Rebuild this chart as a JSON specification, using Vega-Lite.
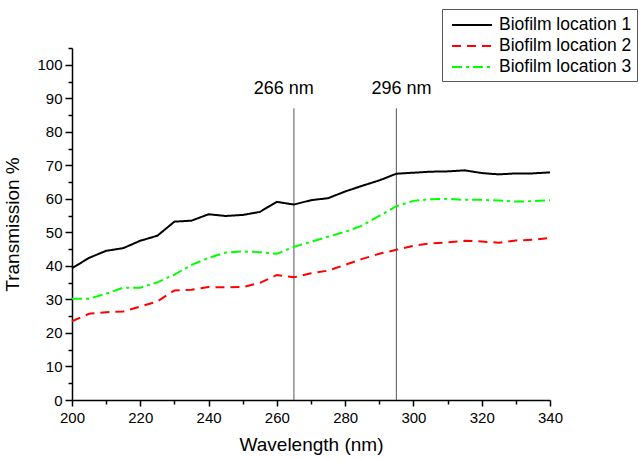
{
  "$schema": "https://vega.github.io/schema/vega-lite/v6.json",
  "width": 478,
  "height": 352,
  "autosize": "none",
  "padding": {"left": 72, "top": 48, "right": 92, "bottom": 61},
  "background": "white",
  "config": {
    "view": {"stroke": null},
    "font": "Liberation Sans",
    "axis": {
      "domainColor": "#000000",
      "domainWidth": 1.5,
      "tickColor": "#000000",
      "tickWidth": 1.5,
      "grid": false,
      "labelColor": "#000000",
      "labelFontSize": 15,
      "labelFont": "Liberation Sans",
      "labelOverlap": false,
      "titleFont": "Liberation Sans",
      "titleFontSize": 19,
      "titleFontWeight": "normal",
      "titleColor": "#000000"
    }
  },
  "datasets": {
    "spectra": [
      {"nm": 200, "series": "Biofilm location 1", "value": 39.3},
      {"nm": 205, "series": "Biofilm location 1", "value": 42.4},
      {"nm": 210, "series": "Biofilm location 1", "value": 44.5},
      {"nm": 215, "series": "Biofilm location 1", "value": 45.3},
      {"nm": 220, "series": "Biofilm location 1", "value": 47.5},
      {"nm": 225, "series": "Biofilm location 1", "value": 49.0},
      {"nm": 230, "series": "Biofilm location 1", "value": 53.2},
      {"nm": 235, "series": "Biofilm location 1", "value": 53.5},
      {"nm": 240, "series": "Biofilm location 1", "value": 55.4},
      {"nm": 245, "series": "Biofilm location 1", "value": 54.9},
      {"nm": 250, "series": "Biofilm location 1", "value": 55.2},
      {"nm": 255, "series": "Biofilm location 1", "value": 56.1},
      {"nm": 260, "series": "Biofilm location 1", "value": 59.1},
      {"nm": 265, "series": "Biofilm location 1", "value": 58.3},
      {"nm": 270, "series": "Biofilm location 1", "value": 59.6},
      {"nm": 275, "series": "Biofilm location 1", "value": 60.2},
      {"nm": 280, "series": "Biofilm location 1", "value": 62.2},
      {"nm": 285, "series": "Biofilm location 1", "value": 63.9},
      {"nm": 290, "series": "Biofilm location 1", "value": 65.5},
      {"nm": 295, "series": "Biofilm location 1", "value": 67.5},
      {"nm": 300, "series": "Biofilm location 1", "value": 67.8},
      {"nm": 305, "series": "Biofilm location 1", "value": 68.1},
      {"nm": 310, "series": "Biofilm location 1", "value": 68.2},
      {"nm": 315, "series": "Biofilm location 1", "value": 68.5},
      {"nm": 320, "series": "Biofilm location 1", "value": 67.7},
      {"nm": 325, "series": "Biofilm location 1", "value": 67.3},
      {"nm": 330, "series": "Biofilm location 1", "value": 67.6},
      {"nm": 335, "series": "Biofilm location 1", "value": 67.6},
      {"nm": 340, "series": "Biofilm location 1", "value": 67.9},
      {"nm": 200, "series": "Biofilm location 2", "value": 23.5},
      {"nm": 205, "series": "Biofilm location 2", "value": 25.7},
      {"nm": 210, "series": "Biofilm location 2", "value": 26.2},
      {"nm": 215, "series": "Biofilm location 2", "value": 26.4},
      {"nm": 220, "series": "Biofilm location 2", "value": 27.9},
      {"nm": 225, "series": "Biofilm location 2", "value": 29.4},
      {"nm": 230, "series": "Biofilm location 2", "value": 32.7},
      {"nm": 235, "series": "Biofilm location 2", "value": 32.9},
      {"nm": 240, "series": "Biofilm location 2", "value": 33.7},
      {"nm": 245, "series": "Biofilm location 2", "value": 33.6},
      {"nm": 250, "series": "Biofilm location 2", "value": 33.7},
      {"nm": 255, "series": "Biofilm location 2", "value": 34.9},
      {"nm": 260, "series": "Biofilm location 2", "value": 37.3},
      {"nm": 265, "series": "Biofilm location 2", "value": 36.6},
      {"nm": 270, "series": "Biofilm location 2", "value": 37.8},
      {"nm": 275, "series": "Biofilm location 2", "value": 38.6},
      {"nm": 280, "series": "Biofilm location 2", "value": 40.3},
      {"nm": 285, "series": "Biofilm location 2", "value": 42.1},
      {"nm": 290, "series": "Biofilm location 2", "value": 43.6},
      {"nm": 295, "series": "Biofilm location 2", "value": 44.8},
      {"nm": 300, "series": "Biofilm location 2", "value": 46.0},
      {"nm": 305, "series": "Biofilm location 2", "value": 46.7},
      {"nm": 310, "series": "Biofilm location 2", "value": 47.0},
      {"nm": 315, "series": "Biofilm location 2", "value": 47.5},
      {"nm": 320, "series": "Biofilm location 2", "value": 47.3},
      {"nm": 325, "series": "Biofilm location 2", "value": 46.9},
      {"nm": 330, "series": "Biofilm location 2", "value": 47.6},
      {"nm": 335, "series": "Biofilm location 2", "value": 47.8},
      {"nm": 340, "series": "Biofilm location 2", "value": 48.3},
      {"nm": 200, "series": "Biofilm location 3", "value": 30.2},
      {"nm": 205, "series": "Biofilm location 3", "value": 30.2},
      {"nm": 210, "series": "Biofilm location 3", "value": 31.7},
      {"nm": 215, "series": "Biofilm location 3", "value": 33.5},
      {"nm": 220, "series": "Biofilm location 3", "value": 33.5},
      {"nm": 225, "series": "Biofilm location 3", "value": 35.1},
      {"nm": 230, "series": "Biofilm location 3", "value": 37.4},
      {"nm": 235, "series": "Biofilm location 3", "value": 40.3},
      {"nm": 240, "series": "Biofilm location 3", "value": 42.4},
      {"nm": 245, "series": "Biofilm location 3", "value": 44.0},
      {"nm": 250, "series": "Biofilm location 3", "value": 44.3},
      {"nm": 255, "series": "Biofilm location 3", "value": 44.1},
      {"nm": 260, "series": "Biofilm location 3", "value": 43.6},
      {"nm": 265, "series": "Biofilm location 3", "value": 45.7},
      {"nm": 270, "series": "Biofilm location 3", "value": 47.2},
      {"nm": 275, "series": "Biofilm location 3", "value": 48.7},
      {"nm": 280, "series": "Biofilm location 3", "value": 50.2},
      {"nm": 285, "series": "Biofilm location 3", "value": 52.0},
      {"nm": 290, "series": "Biofilm location 3", "value": 54.9},
      {"nm": 295, "series": "Biofilm location 3", "value": 57.8},
      {"nm": 300, "series": "Biofilm location 3", "value": 59.4},
      {"nm": 305, "series": "Biofilm location 3", "value": 59.9},
      {"nm": 310, "series": "Biofilm location 3", "value": 60.0},
      {"nm": 315, "series": "Biofilm location 3", "value": 59.7},
      {"nm": 320, "series": "Biofilm location 3", "value": 59.7},
      {"nm": 325, "series": "Biofilm location 3", "value": 59.5},
      {"nm": 330, "series": "Biofilm location 3", "value": 59.2},
      {"nm": 335, "series": "Biofilm location 3", "value": 59.3},
      {"nm": 340, "series": "Biofilm location 3", "value": 59.6}
    ],
    "markers": [
      {"nm": 265},
      {"nm": 295}
    ],
    "labels": [
      {"nm": 262, "label": "266 nm"},
      {"nm": 296.5, "label": "296 nm"}
    ]
  },
  "encoding": {
    "x": {
      "field": "nm",
      "type": "quantitative",
      "scale": {"domain": [200, 340], "nice": false, "zero": false},
      "axis": {
        "title": "Wavelength (nm)",
        "values": [200, 210, 220, 230, 240, 250, 260, 270, 280, 290, 300, 310, 320, 330, 340],
        "labelExpr": "datum.value % 20 === 0 ? datum.label : ''",
        "tickSize": {"condition": {"test": "datum.value % 20 === 0", "value": 6}, "value": 4},
        "labelPadding": 4,
        "titlePadding": 10,
        "labelFlush": false
      }
    }
  },
  "layer": [
    {
      "data": {"name": "markers"},
      "mark": {"type": "rule", "color": "#555555", "strokeWidth": 1},
      "encoding": {
        "y": {
          "datum": 0,
          "type": "quantitative",
          "scale": {"domain": [0, 105], "nice": false},
          "axis": {
            "title": "Transmission %",
            "values": [0, 5, 10, 15, 20, 25, 30, 35, 40, 45, 50, 55, 60, 65, 70, 75, 80, 85, 90, 95, 100, 105],
            "labelExpr": "datum.value % 10 === 0 && datum.value <= 100 ? datum.label : ''",
            "tickSize": {"condition": {"test": "datum.value % 10 === 0", "value": 7}, "value": 4},
            "labelPadding": 3,
            "titlePadding": 14
          }
        },
        "y2": {"datum": 87}
      }
    },
    {
      "data": {"name": "labels"},
      "mark": {"type": "text", "fontSize": 18, "font": "Liberation Sans", "color": "#000000", "align": "center", "baseline": "middle"},
      "encoding": {
        "y": {
          "datum": 92.8,
          "type": "quantitative",
          "scale": {"domain": [0, 105], "nice": false},
          "axis": {
            "title": "Transmission %",
            "values": [0, 5, 10, 15, 20, 25, 30, 35, 40, 45, 50, 55, 60, 65, 70, 75, 80, 85, 90, 95, 100, 105],
            "labelExpr": "datum.value % 10 === 0 && datum.value <= 100 ? datum.label : ''",
            "tickSize": {"condition": {"test": "datum.value % 10 === 0", "value": 7}, "value": 4},
            "labelPadding": 3,
            "titlePadding": 14
          }
        },
        "text": {"field": "label"}
      }
    },
    {
      "data": {"name": "spectra"},
      "mark": {"type": "line", "strokeWidth": 2},
      "encoding": {
        "y": {
          "field": "value",
          "type": "quantitative",
          "scale": {"domain": [0, 105], "nice": false},
          "axis": {
            "title": "Transmission %",
            "values": [0, 5, 10, 15, 20, 25, 30, 35, 40, 45, 50, 55, 60, 65, 70, 75, 80, 85, 90, 95, 100, 105],
            "labelExpr": "datum.value % 10 === 0 && datum.value <= 100 ? datum.label : ''",
            "tickSize": {"condition": {"test": "datum.value % 10 === 0", "value": 7}, "value": 4},
            "labelPadding": 3,
            "titlePadding": 14
          }
        },
        "color": {
          "field": "series",
          "type": "nominal",
          "scale": {
            "domain": ["Biofilm location 1", "Biofilm location 2", "Biofilm location 3"],
            "range": ["#000000", "#ff0000", "#00ff00"]
          },
          "legend": {
            "title": null,
            "orient": "none",
            "legendX": 370,
            "legendY": -39,
            "strokeColor": "#555555",
            "padding": 5,
            "symbolType": "M-2,0L2,0",
            "symbolSize": 400,
            "symbolOffset": 14,
            "symbolStrokeWidth": 2,
            "labelFontSize": 17.5,
            "labelFont": "Liberation Sans",
            "labelColor": "#000000",
            "labelOffset": 16,
            "labelLimit": 300,
            "rowPadding": 1,
            "fillColor": "white"
          }
        },
        "strokeDash": {
          "field": "series",
          "type": "nominal",
          "scale": {
            "domain": ["Biofilm location 1", "Biofilm location 2", "Biofilm location 3"],
            "range": [[1, 0], [9, 6], [10, 4, 3, 4]]
          },
          "legend": {
            "title": null,
            "orient": "none",
            "legendX": 370,
            "legendY": -39,
            "strokeColor": "#555555",
            "padding": 5,
            "symbolType": "M-2,0L2,0",
            "symbolSize": 400,
            "symbolOffset": 14,
            "symbolStrokeWidth": 2,
            "labelFontSize": 17.5,
            "labelFont": "Liberation Sans",
            "labelColor": "#000000",
            "labelOffset": 16,
            "labelLimit": 300,
            "rowPadding": 1,
            "fillColor": "white"
          }
        }
      }
    }
  ]
}
